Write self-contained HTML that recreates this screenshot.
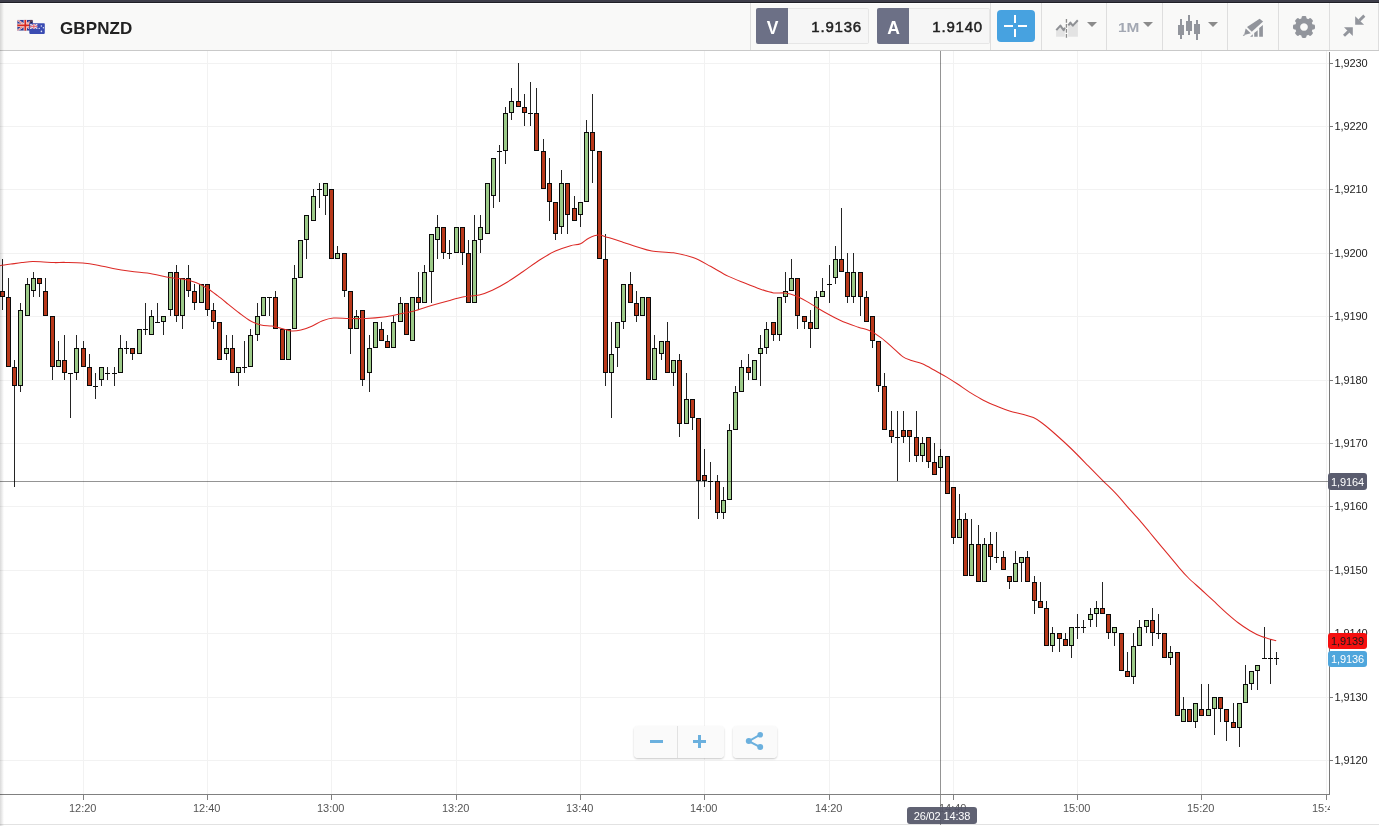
<!DOCTYPE html>
<html lang="en"><head><meta charset="utf-8"><title>GBPNZD</title>
<style>
html,body{margin:0;padding:0;}
body{width:1379px;height:826px;overflow:hidden;background:#fff;position:relative;font-family:"Liberation Sans",Arial,sans-serif;}
#topbar{position:absolute;left:0;top:0;width:1379px;height:3px;background:linear-gradient(to bottom,#3e3e4a 0,#3e3e4a 2px,#202027 2px,#202027 3px);}
#hdr{position:absolute;left:0;top:3px;width:1379px;height:47px;background:#f9f9f8;box-shadow:inset 0 1px 0 #fff;border-bottom:1px solid #c9c9c9;}
#lshadow{position:absolute;left:0;top:3px;width:4px;height:823px;background:linear-gradient(to right,rgba(0,0,0,.15),rgba(0,0,0,0));}
.sym{position:absolute;left:60px;top:16.5px;font-size:17px;font-weight:bold;color:#222;line-height:24px;letter-spacing:0.1px;}
.dv{position:absolute;top:3px;width:1px;height:47px;background:#dedede;}
.pb{position:absolute;top:8px;height:36px;box-sizing:border-box;}
.pb .k{position:absolute;left:0;top:0;width:32px;height:36px;background:#6c7086;border-radius:2px 0 0 2px;color:#fff;font-weight:bold;font-size:17.5px;line-height:40px;text-align:center;text-indent:1px;}
.pb .v{position:absolute;left:32px;top:0;right:0;height:34px;border:1px solid #e6e6e6;border-left:none;background:#f6f6f6;border-radius:0 2px 2px 0;color:#222;font-size:15px;letter-spacing:0.8px;line-height:35px;text-align:right;padding-right:6px;-webkit-text-stroke:0.5px #222;}
#cross{position:absolute;left:997px;top:10px;width:38px;height:32px;border-radius:4px;background:#47a2e0;}
#cross i{position:absolute;background:#fff;display:block;}
.tf{position:absolute;left:1118px;top:17.5px;font-size:13.5px;font-weight:bold;color:#a3a8b3;line-height:20px;transform:scaleX(1.14);transform-origin:0 0;}
.arr{position:absolute;top:22px;width:0;height:0;border-left:5px solid transparent;border-right:5px solid transparent;border-top:5px solid #8b8b8b;}
svg{position:absolute;left:0;top:0;}
.yl{position:absolute;left:1334.6px;letter-spacing:-0.1px;font-size:11px;line-height:14px;height:14px;color:#222;white-space:nowrap;}
.xl{position:absolute;top:801px;width:41px;text-align:center;font-size:11px;line-height:14px;color:#555;white-space:nowrap;}
#xclip{position:absolute;left:0;top:0;width:1330px;height:826px;overflow:hidden;}
.tag{position:absolute;left:1328px;width:39px;height:17px;border-radius:3px;font-size:11px;letter-spacing:-0.1px;line-height:19px;overflow:hidden;text-align:center;white-space:nowrap;}
#ttip{position:absolute;left:907px;top:807px;width:70px;height:17px;border-radius:3px;background:rgba(84,86,104,.93);color:#fff;font-size:11px;letter-spacing:-0.15px;line-height:18px;text-align:center;white-space:nowrap;}
.zb{position:absolute;top:726px;height:32px;background:rgba(250,250,250,.93);border-radius:4px;box-shadow:0 1px 2px rgba(0,0,0,.22);}
#botline{position:absolute;left:0;top:824px;width:1379px;height:1px;background:#e2e2e2;}
</style></head><body>
<div id="botline"></div>
<svg id="chart" width="1379" height="826" viewBox="0 0 1379 826" shape-rendering="crispEdges">
<rect x="0" y="63" width="1329" height="1" fill="#f2f2f2"/>
<rect x="0" y="126" width="1329" height="1" fill="#f2f2f2"/>
<rect x="0" y="189" width="1329" height="1" fill="#f2f2f2"/>
<rect x="0" y="253" width="1329" height="1" fill="#f2f2f2"/>
<rect x="0" y="316" width="1329" height="1" fill="#f2f2f2"/>
<rect x="0" y="380" width="1329" height="1" fill="#f2f2f2"/>
<rect x="0" y="443" width="1329" height="1" fill="#f2f2f2"/>
<rect x="0" y="506" width="1329" height="1" fill="#f2f2f2"/>
<rect x="0" y="570" width="1329" height="1" fill="#f2f2f2"/>
<rect x="0" y="633" width="1329" height="1" fill="#f2f2f2"/>
<rect x="0" y="697" width="1329" height="1" fill="#f2f2f2"/>
<rect x="0" y="760" width="1329" height="1" fill="#f2f2f2"/>
<rect x="83" y="51" width="1" height="743" fill="#f2f2f2"/>
<rect x="207" y="51" width="1" height="743" fill="#f2f2f2"/>
<rect x="331" y="51" width="1" height="743" fill="#f2f2f2"/>
<rect x="456" y="51" width="1" height="743" fill="#f2f2f2"/>
<rect x="580" y="51" width="1" height="743" fill="#f2f2f2"/>
<rect x="704" y="51" width="1" height="743" fill="#f2f2f2"/>
<rect x="829" y="51" width="1" height="743" fill="#f2f2f2"/>
<rect x="953" y="51" width="1" height="743" fill="#f2f2f2"/>
<rect x="1077" y="51" width="1" height="743" fill="#f2f2f2"/>
<rect x="1201" y="51" width="1" height="743" fill="#f2f2f2"/>
<rect x="1326" y="51" width="1" height="743" fill="#f2f2f2"/>
<rect x="2" y="259" width="1" height="51" fill="#242424"/>
<rect x="0" y="291" width="5" height="6" fill="#0a0a0a"/>
<rect x="1" y="292" width="3" height="4" fill="#b8381a"/>
<rect x="8" y="278" width="1" height="89" fill="#242424"/>
<rect x="6" y="297" width="5" height="70" fill="#0a0a0a"/>
<rect x="7" y="298" width="3" height="68" fill="#b8381a"/>
<rect x="14" y="360" width="1" height="127" fill="#242424"/>
<rect x="12" y="367" width="5" height="19" fill="#0a0a0a"/>
<rect x="13" y="368" width="3" height="17" fill="#b8381a"/>
<rect x="20" y="303" width="1" height="89" fill="#242424"/>
<rect x="18" y="310" width="5" height="76" fill="#0a0a0a"/>
<rect x="19" y="311" width="3" height="74" fill="#9cca88"/>
<rect x="27" y="278" width="1" height="38" fill="#242424"/>
<rect x="25" y="284" width="5" height="32" fill="#0a0a0a"/>
<rect x="26" y="285" width="3" height="30" fill="#9cca88"/>
<rect x="33" y="272" width="1" height="25" fill="#242424"/>
<rect x="31" y="278" width="5" height="13" fill="#0a0a0a"/>
<rect x="32" y="279" width="3" height="11" fill="#9cca88"/>
<rect x="39" y="278" width="1" height="19" fill="#242424"/>
<rect x="37" y="278" width="5" height="6" fill="#0a0a0a"/>
<rect x="38" y="279" width="3" height="4" fill="#b8381a"/>
<rect x="45" y="278" width="1" height="38" fill="#242424"/>
<rect x="43" y="291" width="5" height="25" fill="#0a0a0a"/>
<rect x="44" y="292" width="3" height="23" fill="#b8381a"/>
<rect x="52" y="316" width="1" height="64" fill="#242424"/>
<rect x="50" y="316" width="5" height="51" fill="#0a0a0a"/>
<rect x="51" y="317" width="3" height="49" fill="#b8381a"/>
<rect x="58" y="341" width="1" height="26" fill="#242424"/>
<rect x="56" y="360" width="5" height="7" fill="#0a0a0a"/>
<rect x="57" y="361" width="3" height="5" fill="#9cca88"/>
<rect x="64" y="335" width="1" height="45" fill="#242424"/>
<rect x="62" y="360" width="5" height="13" fill="#0a0a0a"/>
<rect x="63" y="361" width="3" height="11" fill="#b8381a"/>
<rect x="70" y="373" width="1" height="45" fill="#242424"/>
<rect x="68" y="373" width="5" height="1" fill="#0a0a0a"/>
<rect x="76" y="335" width="1" height="45" fill="#242424"/>
<rect x="74" y="348" width="5" height="25" fill="#0a0a0a"/>
<rect x="75" y="349" width="3" height="23" fill="#9cca88"/>
<rect x="83" y="341" width="1" height="26" fill="#242424"/>
<rect x="81" y="348" width="5" height="19" fill="#0a0a0a"/>
<rect x="82" y="349" width="3" height="17" fill="#b8381a"/>
<rect x="89" y="354" width="1" height="32" fill="#242424"/>
<rect x="87" y="367" width="5" height="19" fill="#0a0a0a"/>
<rect x="88" y="368" width="3" height="17" fill="#b8381a"/>
<rect x="95" y="373" width="1" height="26" fill="#242424"/>
<rect x="93" y="386" width="5" height="1" fill="#0a0a0a"/>
<rect x="101" y="367" width="1" height="19" fill="#242424"/>
<rect x="99" y="367" width="5" height="13" fill="#0a0a0a"/>
<rect x="100" y="368" width="3" height="11" fill="#9cca88"/>
<rect x="107" y="367" width="1" height="13" fill="#242424"/>
<rect x="105" y="373" width="5" height="1" fill="#0a0a0a"/>
<rect x="114" y="367" width="1" height="19" fill="#242424"/>
<rect x="112" y="373" width="5" height="1" fill="#0a0a0a"/>
<rect x="120" y="335" width="1" height="38" fill="#242424"/>
<rect x="118" y="348" width="5" height="25" fill="#0a0a0a"/>
<rect x="119" y="349" width="3" height="23" fill="#9cca88"/>
<rect x="126" y="341" width="1" height="13" fill="#242424"/>
<rect x="124" y="348" width="5" height="1" fill="#0a0a0a"/>
<rect x="132" y="348" width="1" height="12" fill="#242424"/>
<rect x="130" y="348" width="5" height="6" fill="#0a0a0a"/>
<rect x="131" y="349" width="3" height="4" fill="#b8381a"/>
<rect x="139" y="329" width="1" height="25" fill="#242424"/>
<rect x="137" y="329" width="5" height="25" fill="#0a0a0a"/>
<rect x="138" y="330" width="3" height="23" fill="#9cca88"/>
<rect x="145" y="303" width="1" height="32" fill="#242424"/>
<rect x="143" y="329" width="5" height="1" fill="#0a0a0a"/>
<rect x="151" y="310" width="1" height="25" fill="#242424"/>
<rect x="149" y="316" width="5" height="19" fill="#0a0a0a"/>
<rect x="150" y="317" width="3" height="17" fill="#9cca88"/>
<rect x="157" y="303" width="1" height="19" fill="#242424"/>
<rect x="155" y="322" width="5" height="1" fill="#0a0a0a"/>
<rect x="163" y="316" width="1" height="19" fill="#242424"/>
<rect x="161" y="316" width="5" height="6" fill="#0a0a0a"/>
<rect x="162" y="317" width="3" height="4" fill="#9cca88"/>
<rect x="170" y="272" width="1" height="44" fill="#242424"/>
<rect x="168" y="272" width="5" height="38" fill="#0a0a0a"/>
<rect x="169" y="273" width="3" height="36" fill="#9cca88"/>
<rect x="176" y="265" width="1" height="57" fill="#242424"/>
<rect x="174" y="272" width="5" height="44" fill="#0a0a0a"/>
<rect x="175" y="273" width="3" height="42" fill="#b8381a"/>
<rect x="182" y="278" width="1" height="51" fill="#242424"/>
<rect x="180" y="278" width="5" height="38" fill="#0a0a0a"/>
<rect x="181" y="279" width="3" height="36" fill="#9cca88"/>
<rect x="188" y="265" width="1" height="32" fill="#242424"/>
<rect x="186" y="278" width="5" height="13" fill="#0a0a0a"/>
<rect x="187" y="279" width="3" height="11" fill="#b8381a"/>
<rect x="194" y="284" width="1" height="26" fill="#242424"/>
<rect x="192" y="291" width="5" height="12" fill="#0a0a0a"/>
<rect x="193" y="292" width="3" height="10" fill="#b8381a"/>
<rect x="201" y="284" width="1" height="19" fill="#242424"/>
<rect x="199" y="284" width="5" height="19" fill="#0a0a0a"/>
<rect x="200" y="285" width="3" height="17" fill="#9cca88"/>
<rect x="207" y="284" width="1" height="32" fill="#242424"/>
<rect x="205" y="284" width="5" height="26" fill="#0a0a0a"/>
<rect x="206" y="285" width="3" height="24" fill="#b8381a"/>
<rect x="213" y="303" width="1" height="26" fill="#242424"/>
<rect x="211" y="310" width="5" height="12" fill="#0a0a0a"/>
<rect x="212" y="311" width="3" height="10" fill="#b8381a"/>
<rect x="219" y="322" width="1" height="38" fill="#242424"/>
<rect x="217" y="322" width="5" height="38" fill="#0a0a0a"/>
<rect x="218" y="323" width="3" height="36" fill="#b8381a"/>
<rect x="226" y="335" width="1" height="25" fill="#242424"/>
<rect x="224" y="348" width="5" height="6" fill="#0a0a0a"/>
<rect x="225" y="349" width="3" height="4" fill="#9cca88"/>
<rect x="232" y="335" width="1" height="38" fill="#242424"/>
<rect x="230" y="348" width="5" height="25" fill="#0a0a0a"/>
<rect x="231" y="349" width="3" height="23" fill="#b8381a"/>
<rect x="238" y="367" width="1" height="19" fill="#242424"/>
<rect x="236" y="367" width="5" height="6" fill="#0a0a0a"/>
<rect x="237" y="368" width="3" height="4" fill="#9cca88"/>
<rect x="244" y="341" width="1" height="32" fill="#242424"/>
<rect x="242" y="367" width="5" height="1" fill="#0a0a0a"/>
<rect x="250" y="329" width="1" height="38" fill="#242424"/>
<rect x="248" y="335" width="5" height="32" fill="#0a0a0a"/>
<rect x="249" y="336" width="3" height="30" fill="#9cca88"/>
<rect x="257" y="303" width="1" height="38" fill="#242424"/>
<rect x="255" y="316" width="5" height="19" fill="#0a0a0a"/>
<rect x="256" y="317" width="3" height="17" fill="#9cca88"/>
<rect x="263" y="297" width="1" height="19" fill="#242424"/>
<rect x="261" y="297" width="5" height="19" fill="#0a0a0a"/>
<rect x="262" y="298" width="3" height="17" fill="#9cca88"/>
<rect x="269" y="297" width="1" height="19" fill="#242424"/>
<rect x="267" y="297" width="5" height="1" fill="#0a0a0a"/>
<rect x="275" y="291" width="1" height="38" fill="#242424"/>
<rect x="273" y="297" width="5" height="32" fill="#0a0a0a"/>
<rect x="274" y="298" width="3" height="30" fill="#b8381a"/>
<rect x="282" y="329" width="1" height="31" fill="#242424"/>
<rect x="280" y="329" width="5" height="31" fill="#0a0a0a"/>
<rect x="281" y="330" width="3" height="29" fill="#b8381a"/>
<rect x="288" y="329" width="1" height="31" fill="#242424"/>
<rect x="286" y="329" width="5" height="31" fill="#0a0a0a"/>
<rect x="287" y="330" width="3" height="29" fill="#9cca88"/>
<rect x="294" y="265" width="1" height="64" fill="#242424"/>
<rect x="292" y="278" width="5" height="51" fill="#0a0a0a"/>
<rect x="293" y="279" width="3" height="49" fill="#9cca88"/>
<rect x="300" y="240" width="1" height="38" fill="#242424"/>
<rect x="298" y="240" width="5" height="38" fill="#0a0a0a"/>
<rect x="299" y="241" width="3" height="36" fill="#9cca88"/>
<rect x="306" y="215" width="1" height="44" fill="#242424"/>
<rect x="304" y="215" width="5" height="25" fill="#0a0a0a"/>
<rect x="305" y="216" width="3" height="23" fill="#9cca88"/>
<rect x="313" y="189" width="1" height="32" fill="#242424"/>
<rect x="311" y="196" width="5" height="25" fill="#0a0a0a"/>
<rect x="312" y="197" width="3" height="23" fill="#9cca88"/>
<rect x="319" y="183" width="1" height="25" fill="#242424"/>
<rect x="317" y="189" width="5" height="1" fill="#0a0a0a"/>
<rect x="325" y="183" width="1" height="32" fill="#242424"/>
<rect x="323" y="183" width="5" height="13" fill="#0a0a0a"/>
<rect x="324" y="184" width="3" height="11" fill="#9cca88"/>
<rect x="331" y="189" width="1" height="70" fill="#242424"/>
<rect x="329" y="189" width="5" height="70" fill="#0a0a0a"/>
<rect x="330" y="190" width="3" height="68" fill="#b8381a"/>
<rect x="337" y="246" width="1" height="13" fill="#242424"/>
<rect x="335" y="253" width="5" height="6" fill="#0a0a0a"/>
<rect x="336" y="254" width="3" height="4" fill="#9cca88"/>
<rect x="344" y="253" width="1" height="44" fill="#242424"/>
<rect x="342" y="253" width="5" height="38" fill="#0a0a0a"/>
<rect x="343" y="254" width="3" height="36" fill="#b8381a"/>
<rect x="350" y="291" width="1" height="63" fill="#242424"/>
<rect x="348" y="291" width="5" height="38" fill="#0a0a0a"/>
<rect x="349" y="292" width="3" height="36" fill="#b8381a"/>
<rect x="356" y="310" width="1" height="19" fill="#242424"/>
<rect x="354" y="316" width="5" height="13" fill="#0a0a0a"/>
<rect x="355" y="317" width="3" height="11" fill="#9cca88"/>
<rect x="362" y="310" width="1" height="76" fill="#242424"/>
<rect x="360" y="310" width="5" height="70" fill="#0a0a0a"/>
<rect x="361" y="311" width="3" height="68" fill="#b8381a"/>
<rect x="369" y="335" width="1" height="57" fill="#242424"/>
<rect x="367" y="348" width="5" height="25" fill="#0a0a0a"/>
<rect x="368" y="349" width="3" height="23" fill="#9cca88"/>
<rect x="375" y="322" width="1" height="26" fill="#242424"/>
<rect x="373" y="322" width="5" height="26" fill="#0a0a0a"/>
<rect x="374" y="323" width="3" height="24" fill="#9cca88"/>
<rect x="381" y="322" width="1" height="19" fill="#242424"/>
<rect x="379" y="329" width="5" height="12" fill="#0a0a0a"/>
<rect x="380" y="330" width="3" height="10" fill="#b8381a"/>
<rect x="387" y="335" width="1" height="13" fill="#242424"/>
<rect x="385" y="341" width="5" height="7" fill="#0a0a0a"/>
<rect x="386" y="342" width="3" height="5" fill="#b8381a"/>
<rect x="393" y="316" width="1" height="32" fill="#242424"/>
<rect x="391" y="322" width="5" height="26" fill="#0a0a0a"/>
<rect x="392" y="323" width="3" height="24" fill="#9cca88"/>
<rect x="400" y="297" width="1" height="25" fill="#242424"/>
<rect x="398" y="303" width="5" height="19" fill="#0a0a0a"/>
<rect x="399" y="304" width="3" height="17" fill="#9cca88"/>
<rect x="406" y="303" width="1" height="32" fill="#242424"/>
<rect x="404" y="303" width="5" height="32" fill="#0a0a0a"/>
<rect x="405" y="304" width="3" height="30" fill="#b8381a"/>
<rect x="412" y="297" width="1" height="44" fill="#242424"/>
<rect x="410" y="297" width="5" height="44" fill="#0a0a0a"/>
<rect x="411" y="298" width="3" height="42" fill="#9cca88"/>
<rect x="418" y="272" width="1" height="38" fill="#242424"/>
<rect x="416" y="297" width="5" height="6" fill="#0a0a0a"/>
<rect x="417" y="298" width="3" height="4" fill="#b8381a"/>
<rect x="424" y="265" width="1" height="38" fill="#242424"/>
<rect x="422" y="272" width="5" height="31" fill="#0a0a0a"/>
<rect x="423" y="273" width="3" height="29" fill="#9cca88"/>
<rect x="431" y="234" width="1" height="69" fill="#242424"/>
<rect x="429" y="234" width="5" height="38" fill="#0a0a0a"/>
<rect x="430" y="235" width="3" height="36" fill="#9cca88"/>
<rect x="437" y="215" width="1" height="44" fill="#242424"/>
<rect x="435" y="227" width="5" height="13" fill="#0a0a0a"/>
<rect x="436" y="228" width="3" height="11" fill="#9cca88"/>
<rect x="443" y="227" width="1" height="32" fill="#242424"/>
<rect x="441" y="227" width="5" height="26" fill="#0a0a0a"/>
<rect x="442" y="228" width="3" height="24" fill="#b8381a"/>
<rect x="449" y="240" width="1" height="19" fill="#242424"/>
<rect x="447" y="253" width="5" height="1" fill="#0a0a0a"/>
<rect x="456" y="227" width="1" height="26" fill="#242424"/>
<rect x="454" y="227" width="5" height="26" fill="#0a0a0a"/>
<rect x="455" y="228" width="3" height="24" fill="#9cca88"/>
<rect x="462" y="227" width="1" height="38" fill="#242424"/>
<rect x="460" y="227" width="5" height="26" fill="#0a0a0a"/>
<rect x="461" y="228" width="3" height="24" fill="#b8381a"/>
<rect x="468" y="240" width="1" height="63" fill="#242424"/>
<rect x="466" y="253" width="5" height="50" fill="#0a0a0a"/>
<rect x="467" y="254" width="3" height="48" fill="#b8381a"/>
<rect x="474" y="215" width="1" height="88" fill="#242424"/>
<rect x="472" y="240" width="5" height="63" fill="#0a0a0a"/>
<rect x="473" y="241" width="3" height="61" fill="#9cca88"/>
<rect x="480" y="215" width="1" height="38" fill="#242424"/>
<rect x="478" y="227" width="5" height="13" fill="#0a0a0a"/>
<rect x="479" y="228" width="3" height="11" fill="#9cca88"/>
<rect x="487" y="183" width="1" height="51" fill="#242424"/>
<rect x="485" y="183" width="5" height="51" fill="#0a0a0a"/>
<rect x="486" y="184" width="3" height="49" fill="#9cca88"/>
<rect x="493" y="158" width="1" height="50" fill="#242424"/>
<rect x="491" y="158" width="5" height="38" fill="#0a0a0a"/>
<rect x="492" y="159" width="3" height="36" fill="#9cca88"/>
<rect x="499" y="145" width="1" height="57" fill="#242424"/>
<rect x="497" y="151" width="5" height="1" fill="#0a0a0a"/>
<rect x="505" y="107" width="1" height="57" fill="#242424"/>
<rect x="503" y="113" width="5" height="38" fill="#0a0a0a"/>
<rect x="504" y="114" width="3" height="36" fill="#9cca88"/>
<rect x="511" y="88" width="1" height="32" fill="#242424"/>
<rect x="509" y="101" width="5" height="12" fill="#0a0a0a"/>
<rect x="510" y="102" width="3" height="10" fill="#9cca88"/>
<rect x="518" y="63" width="1" height="44" fill="#242424"/>
<rect x="516" y="101" width="5" height="6" fill="#0a0a0a"/>
<rect x="517" y="102" width="3" height="4" fill="#b8381a"/>
<rect x="524" y="94" width="1" height="32" fill="#242424"/>
<rect x="522" y="107" width="5" height="6" fill="#0a0a0a"/>
<rect x="523" y="108" width="3" height="4" fill="#b8381a"/>
<rect x="530" y="82" width="1" height="44" fill="#242424"/>
<rect x="528" y="113" width="5" height="1" fill="#0a0a0a"/>
<rect x="536" y="88" width="1" height="63" fill="#242424"/>
<rect x="534" y="113" width="5" height="38" fill="#0a0a0a"/>
<rect x="535" y="114" width="3" height="36" fill="#b8381a"/>
<rect x="543" y="139" width="1" height="50" fill="#242424"/>
<rect x="541" y="151" width="5" height="38" fill="#0a0a0a"/>
<rect x="542" y="152" width="3" height="36" fill="#b8381a"/>
<rect x="549" y="158" width="1" height="63" fill="#242424"/>
<rect x="547" y="183" width="5" height="19" fill="#0a0a0a"/>
<rect x="548" y="184" width="3" height="17" fill="#b8381a"/>
<rect x="555" y="202" width="1" height="38" fill="#242424"/>
<rect x="553" y="202" width="5" height="32" fill="#0a0a0a"/>
<rect x="554" y="203" width="3" height="30" fill="#b8381a"/>
<rect x="561" y="170" width="1" height="64" fill="#242424"/>
<rect x="559" y="183" width="5" height="44" fill="#0a0a0a"/>
<rect x="560" y="184" width="3" height="42" fill="#9cca88"/>
<rect x="567" y="183" width="1" height="51" fill="#242424"/>
<rect x="565" y="183" width="5" height="32" fill="#0a0a0a"/>
<rect x="566" y="184" width="3" height="30" fill="#b8381a"/>
<rect x="574" y="196" width="1" height="25" fill="#242424"/>
<rect x="572" y="208" width="5" height="13" fill="#0a0a0a"/>
<rect x="573" y="209" width="3" height="11" fill="#b8381a"/>
<rect x="580" y="202" width="1" height="25" fill="#242424"/>
<rect x="578" y="202" width="5" height="13" fill="#0a0a0a"/>
<rect x="579" y="203" width="3" height="11" fill="#9cca88"/>
<rect x="586" y="120" width="1" height="82" fill="#242424"/>
<rect x="584" y="132" width="5" height="70" fill="#0a0a0a"/>
<rect x="585" y="133" width="3" height="68" fill="#9cca88"/>
<rect x="592" y="94" width="1" height="89" fill="#242424"/>
<rect x="590" y="132" width="5" height="19" fill="#0a0a0a"/>
<rect x="591" y="133" width="3" height="17" fill="#b8381a"/>
<rect x="599" y="151" width="1" height="108" fill="#242424"/>
<rect x="597" y="151" width="5" height="108" fill="#0a0a0a"/>
<rect x="598" y="152" width="3" height="106" fill="#b8381a"/>
<rect x="605" y="234" width="1" height="152" fill="#242424"/>
<rect x="603" y="259" width="5" height="114" fill="#0a0a0a"/>
<rect x="604" y="260" width="3" height="112" fill="#b8381a"/>
<rect x="611" y="322" width="1" height="96" fill="#242424"/>
<rect x="609" y="354" width="5" height="19" fill="#0a0a0a"/>
<rect x="610" y="355" width="3" height="17" fill="#9cca88"/>
<rect x="617" y="322" width="1" height="45" fill="#242424"/>
<rect x="615" y="322" width="5" height="26" fill="#0a0a0a"/>
<rect x="616" y="323" width="3" height="24" fill="#9cca88"/>
<rect x="623" y="284" width="1" height="45" fill="#242424"/>
<rect x="621" y="284" width="5" height="38" fill="#0a0a0a"/>
<rect x="622" y="285" width="3" height="36" fill="#9cca88"/>
<rect x="630" y="272" width="1" height="31" fill="#242424"/>
<rect x="628" y="284" width="5" height="19" fill="#0a0a0a"/>
<rect x="629" y="285" width="3" height="17" fill="#b8381a"/>
<rect x="636" y="291" width="1" height="31" fill="#242424"/>
<rect x="634" y="303" width="5" height="13" fill="#0a0a0a"/>
<rect x="635" y="304" width="3" height="11" fill="#b8381a"/>
<rect x="642" y="297" width="1" height="19" fill="#242424"/>
<rect x="640" y="297" width="5" height="19" fill="#0a0a0a"/>
<rect x="641" y="298" width="3" height="17" fill="#9cca88"/>
<rect x="648" y="297" width="1" height="83" fill="#242424"/>
<rect x="646" y="297" width="5" height="83" fill="#0a0a0a"/>
<rect x="647" y="298" width="3" height="81" fill="#b8381a"/>
<rect x="654" y="335" width="1" height="45" fill="#242424"/>
<rect x="652" y="348" width="5" height="32" fill="#0a0a0a"/>
<rect x="653" y="349" width="3" height="30" fill="#9cca88"/>
<rect x="661" y="341" width="1" height="19" fill="#242424"/>
<rect x="659" y="341" width="5" height="13" fill="#0a0a0a"/>
<rect x="660" y="342" width="3" height="11" fill="#9cca88"/>
<rect x="667" y="322" width="1" height="51" fill="#242424"/>
<rect x="665" y="341" width="5" height="32" fill="#0a0a0a"/>
<rect x="666" y="342" width="3" height="30" fill="#b8381a"/>
<rect x="673" y="360" width="1" height="26" fill="#242424"/>
<rect x="671" y="360" width="5" height="13" fill="#0a0a0a"/>
<rect x="672" y="361" width="3" height="11" fill="#9cca88"/>
<rect x="679" y="354" width="1" height="83" fill="#242424"/>
<rect x="677" y="360" width="5" height="64" fill="#0a0a0a"/>
<rect x="678" y="361" width="3" height="62" fill="#b8381a"/>
<rect x="686" y="373" width="1" height="51" fill="#242424"/>
<rect x="684" y="399" width="5" height="25" fill="#0a0a0a"/>
<rect x="685" y="400" width="3" height="23" fill="#9cca88"/>
<rect x="692" y="399" width="1" height="31" fill="#242424"/>
<rect x="690" y="399" width="5" height="19" fill="#0a0a0a"/>
<rect x="691" y="400" width="3" height="17" fill="#b8381a"/>
<rect x="698" y="418" width="1" height="101" fill="#242424"/>
<rect x="696" y="418" width="5" height="63" fill="#0a0a0a"/>
<rect x="697" y="419" width="3" height="61" fill="#b8381a"/>
<rect x="704" y="449" width="1" height="38" fill="#242424"/>
<rect x="702" y="475" width="5" height="6" fill="#0a0a0a"/>
<rect x="703" y="476" width="3" height="4" fill="#b8381a"/>
<rect x="710" y="462" width="1" height="38" fill="#242424"/>
<rect x="708" y="481" width="5" height="1" fill="#0a0a0a"/>
<rect x="717" y="475" width="1" height="44" fill="#242424"/>
<rect x="715" y="481" width="5" height="32" fill="#0a0a0a"/>
<rect x="716" y="482" width="3" height="30" fill="#b8381a"/>
<rect x="723" y="487" width="1" height="32" fill="#242424"/>
<rect x="721" y="500" width="5" height="13" fill="#0a0a0a"/>
<rect x="722" y="501" width="3" height="11" fill="#9cca88"/>
<rect x="729" y="424" width="1" height="76" fill="#242424"/>
<rect x="727" y="430" width="5" height="70" fill="#0a0a0a"/>
<rect x="728" y="431" width="3" height="68" fill="#9cca88"/>
<rect x="735" y="386" width="1" height="44" fill="#242424"/>
<rect x="733" y="392" width="5" height="38" fill="#0a0a0a"/>
<rect x="734" y="393" width="3" height="36" fill="#9cca88"/>
<rect x="741" y="360" width="1" height="32" fill="#242424"/>
<rect x="739" y="367" width="5" height="25" fill="#0a0a0a"/>
<rect x="740" y="368" width="3" height="23" fill="#9cca88"/>
<rect x="748" y="354" width="1" height="26" fill="#242424"/>
<rect x="746" y="367" width="5" height="6" fill="#0a0a0a"/>
<rect x="747" y="368" width="3" height="4" fill="#b8381a"/>
<rect x="754" y="360" width="1" height="20" fill="#242424"/>
<rect x="752" y="360" width="5" height="20" fill="#0a0a0a"/>
<rect x="753" y="361" width="3" height="18" fill="#9cca88"/>
<rect x="760" y="335" width="1" height="51" fill="#242424"/>
<rect x="758" y="348" width="5" height="6" fill="#0a0a0a"/>
<rect x="759" y="349" width="3" height="4" fill="#9cca88"/>
<rect x="766" y="322" width="1" height="32" fill="#242424"/>
<rect x="764" y="329" width="5" height="19" fill="#0a0a0a"/>
<rect x="765" y="330" width="3" height="17" fill="#9cca88"/>
<rect x="773" y="322" width="1" height="19" fill="#242424"/>
<rect x="771" y="322" width="5" height="13" fill="#0a0a0a"/>
<rect x="772" y="323" width="3" height="11" fill="#b8381a"/>
<rect x="779" y="297" width="1" height="44" fill="#242424"/>
<rect x="777" y="297" width="5" height="38" fill="#0a0a0a"/>
<rect x="778" y="298" width="3" height="36" fill="#9cca88"/>
<rect x="785" y="272" width="1" height="31" fill="#242424"/>
<rect x="783" y="291" width="5" height="6" fill="#0a0a0a"/>
<rect x="784" y="292" width="3" height="4" fill="#9cca88"/>
<rect x="791" y="259" width="1" height="32" fill="#242424"/>
<rect x="789" y="278" width="5" height="13" fill="#0a0a0a"/>
<rect x="790" y="279" width="3" height="11" fill="#9cca88"/>
<rect x="797" y="278" width="1" height="51" fill="#242424"/>
<rect x="795" y="278" width="5" height="38" fill="#0a0a0a"/>
<rect x="796" y="279" width="3" height="36" fill="#b8381a"/>
<rect x="804" y="316" width="1" height="13" fill="#242424"/>
<rect x="802" y="316" width="5" height="6" fill="#0a0a0a"/>
<rect x="803" y="317" width="3" height="4" fill="#b8381a"/>
<rect x="810" y="310" width="1" height="38" fill="#242424"/>
<rect x="808" y="322" width="5" height="7" fill="#0a0a0a"/>
<rect x="809" y="323" width="3" height="5" fill="#b8381a"/>
<rect x="816" y="291" width="1" height="38" fill="#242424"/>
<rect x="814" y="297" width="5" height="32" fill="#0a0a0a"/>
<rect x="815" y="298" width="3" height="30" fill="#9cca88"/>
<rect x="822" y="278" width="1" height="19" fill="#242424"/>
<rect x="820" y="291" width="5" height="6" fill="#0a0a0a"/>
<rect x="821" y="292" width="3" height="4" fill="#9cca88"/>
<rect x="829" y="265" width="1" height="38" fill="#242424"/>
<rect x="827" y="284" width="5" height="1" fill="#0a0a0a"/>
<rect x="835" y="246" width="1" height="38" fill="#242424"/>
<rect x="833" y="259" width="5" height="19" fill="#0a0a0a"/>
<rect x="834" y="260" width="3" height="17" fill="#9cca88"/>
<rect x="841" y="208" width="1" height="64" fill="#242424"/>
<rect x="839" y="259" width="5" height="13" fill="#0a0a0a"/>
<rect x="840" y="260" width="3" height="11" fill="#b8381a"/>
<rect x="847" y="253" width="1" height="50" fill="#242424"/>
<rect x="845" y="272" width="5" height="25" fill="#0a0a0a"/>
<rect x="846" y="273" width="3" height="23" fill="#b8381a"/>
<rect x="853" y="253" width="1" height="50" fill="#242424"/>
<rect x="851" y="272" width="5" height="25" fill="#0a0a0a"/>
<rect x="852" y="273" width="3" height="23" fill="#9cca88"/>
<rect x="860" y="272" width="1" height="44" fill="#242424"/>
<rect x="858" y="272" width="5" height="25" fill="#0a0a0a"/>
<rect x="859" y="273" width="3" height="23" fill="#b8381a"/>
<rect x="866" y="291" width="1" height="31" fill="#242424"/>
<rect x="864" y="297" width="5" height="25" fill="#0a0a0a"/>
<rect x="865" y="298" width="3" height="23" fill="#b8381a"/>
<rect x="872" y="316" width="1" height="32" fill="#242424"/>
<rect x="870" y="316" width="5" height="25" fill="#0a0a0a"/>
<rect x="871" y="317" width="3" height="23" fill="#b8381a"/>
<rect x="878" y="341" width="1" height="51" fill="#242424"/>
<rect x="876" y="341" width="5" height="45" fill="#0a0a0a"/>
<rect x="877" y="342" width="3" height="43" fill="#b8381a"/>
<rect x="884" y="373" width="1" height="57" fill="#242424"/>
<rect x="882" y="386" width="5" height="44" fill="#0a0a0a"/>
<rect x="883" y="387" width="3" height="42" fill="#b8381a"/>
<rect x="891" y="411" width="1" height="32" fill="#242424"/>
<rect x="889" y="430" width="5" height="7" fill="#0a0a0a"/>
<rect x="890" y="431" width="3" height="5" fill="#b8381a"/>
<rect x="897" y="411" width="1" height="70" fill="#242424"/>
<rect x="895" y="437" width="5" height="1" fill="#0a0a0a"/>
<rect x="903" y="411" width="1" height="32" fill="#242424"/>
<rect x="901" y="430" width="5" height="7" fill="#0a0a0a"/>
<rect x="902" y="431" width="3" height="5" fill="#b8381a"/>
<rect x="909" y="430" width="1" height="32" fill="#242424"/>
<rect x="907" y="430" width="5" height="7" fill="#0a0a0a"/>
<rect x="908" y="431" width="3" height="5" fill="#b8381a"/>
<rect x="916" y="411" width="1" height="51" fill="#242424"/>
<rect x="914" y="437" width="5" height="19" fill="#0a0a0a"/>
<rect x="915" y="438" width="3" height="17" fill="#b8381a"/>
<rect x="922" y="437" width="1" height="25" fill="#242424"/>
<rect x="920" y="443" width="5" height="13" fill="#0a0a0a"/>
<rect x="921" y="444" width="3" height="11" fill="#9cca88"/>
<rect x="928" y="437" width="1" height="31" fill="#242424"/>
<rect x="926" y="437" width="5" height="25" fill="#0a0a0a"/>
<rect x="927" y="438" width="3" height="23" fill="#b8381a"/>
<rect x="934" y="443" width="1" height="32" fill="#242424"/>
<rect x="932" y="462" width="5" height="13" fill="#0a0a0a"/>
<rect x="933" y="463" width="3" height="11" fill="#b8381a"/>
<rect x="940" y="449" width="1" height="32" fill="#242424"/>
<rect x="938" y="456" width="5" height="12" fill="#0a0a0a"/>
<rect x="939" y="457" width="3" height="10" fill="#9cca88"/>
<rect x="947" y="456" width="1" height="38" fill="#242424"/>
<rect x="945" y="456" width="5" height="38" fill="#0a0a0a"/>
<rect x="946" y="457" width="3" height="36" fill="#b8381a"/>
<rect x="953" y="487" width="1" height="57" fill="#242424"/>
<rect x="951" y="487" width="5" height="51" fill="#0a0a0a"/>
<rect x="952" y="488" width="3" height="49" fill="#b8381a"/>
<rect x="959" y="494" width="1" height="44" fill="#242424"/>
<rect x="957" y="519" width="5" height="19" fill="#0a0a0a"/>
<rect x="958" y="520" width="3" height="17" fill="#9cca88"/>
<rect x="965" y="513" width="1" height="63" fill="#242424"/>
<rect x="963" y="519" width="5" height="57" fill="#0a0a0a"/>
<rect x="964" y="520" width="3" height="55" fill="#b8381a"/>
<rect x="971" y="519" width="1" height="57" fill="#242424"/>
<rect x="969" y="544" width="5" height="32" fill="#0a0a0a"/>
<rect x="970" y="545" width="3" height="30" fill="#9cca88"/>
<rect x="978" y="525" width="1" height="57" fill="#242424"/>
<rect x="976" y="544" width="5" height="38" fill="#0a0a0a"/>
<rect x="977" y="545" width="3" height="36" fill="#b8381a"/>
<rect x="984" y="538" width="1" height="44" fill="#242424"/>
<rect x="982" y="544" width="5" height="38" fill="#0a0a0a"/>
<rect x="983" y="545" width="3" height="36" fill="#9cca88"/>
<rect x="990" y="532" width="1" height="38" fill="#242424"/>
<rect x="988" y="544" width="5" height="13" fill="#0a0a0a"/>
<rect x="989" y="545" width="3" height="11" fill="#b8381a"/>
<rect x="996" y="532" width="1" height="31" fill="#242424"/>
<rect x="994" y="557" width="5" height="1" fill="#0a0a0a"/>
<rect x="1003" y="551" width="1" height="19" fill="#242424"/>
<rect x="1001" y="557" width="5" height="13" fill="#0a0a0a"/>
<rect x="1002" y="558" width="3" height="11" fill="#b8381a"/>
<rect x="1009" y="576" width="1" height="13" fill="#242424"/>
<rect x="1007" y="576" width="5" height="6" fill="#0a0a0a"/>
<rect x="1008" y="577" width="3" height="4" fill="#b8381a"/>
<rect x="1015" y="551" width="1" height="31" fill="#242424"/>
<rect x="1013" y="563" width="5" height="19" fill="#0a0a0a"/>
<rect x="1014" y="564" width="3" height="17" fill="#9cca88"/>
<rect x="1021" y="557" width="1" height="25" fill="#242424"/>
<rect x="1019" y="557" width="5" height="6" fill="#0a0a0a"/>
<rect x="1020" y="558" width="3" height="4" fill="#9cca88"/>
<rect x="1027" y="551" width="1" height="31" fill="#242424"/>
<rect x="1025" y="557" width="5" height="25" fill="#0a0a0a"/>
<rect x="1026" y="558" width="3" height="23" fill="#b8381a"/>
<rect x="1034" y="576" width="1" height="38" fill="#242424"/>
<rect x="1032" y="582" width="5" height="19" fill="#0a0a0a"/>
<rect x="1033" y="583" width="3" height="17" fill="#b8381a"/>
<rect x="1040" y="582" width="1" height="26" fill="#242424"/>
<rect x="1038" y="601" width="5" height="7" fill="#0a0a0a"/>
<rect x="1039" y="602" width="3" height="5" fill="#b8381a"/>
<rect x="1046" y="601" width="1" height="45" fill="#242424"/>
<rect x="1044" y="608" width="5" height="38" fill="#0a0a0a"/>
<rect x="1045" y="609" width="3" height="36" fill="#b8381a"/>
<rect x="1052" y="627" width="1" height="25" fill="#242424"/>
<rect x="1050" y="633" width="5" height="13" fill="#0a0a0a"/>
<rect x="1051" y="634" width="3" height="11" fill="#9cca88"/>
<rect x="1059" y="633" width="1" height="19" fill="#242424"/>
<rect x="1057" y="633" width="5" height="6" fill="#0a0a0a"/>
<rect x="1058" y="634" width="3" height="4" fill="#b8381a"/>
<rect x="1065" y="633" width="1" height="13" fill="#242424"/>
<rect x="1063" y="639" width="5" height="7" fill="#0a0a0a"/>
<rect x="1064" y="640" width="3" height="5" fill="#b8381a"/>
<rect x="1071" y="627" width="1" height="31" fill="#242424"/>
<rect x="1069" y="627" width="5" height="19" fill="#0a0a0a"/>
<rect x="1070" y="628" width="3" height="17" fill="#9cca88"/>
<rect x="1077" y="614" width="1" height="25" fill="#242424"/>
<rect x="1075" y="627" width="5" height="1" fill="#0a0a0a"/>
<rect x="1083" y="620" width="1" height="13" fill="#242424"/>
<rect x="1081" y="627" width="5" height="1" fill="#0a0a0a"/>
<rect x="1090" y="608" width="1" height="19" fill="#242424"/>
<rect x="1088" y="614" width="5" height="6" fill="#0a0a0a"/>
<rect x="1089" y="615" width="3" height="4" fill="#9cca88"/>
<rect x="1096" y="601" width="1" height="26" fill="#242424"/>
<rect x="1094" y="608" width="5" height="6" fill="#0a0a0a"/>
<rect x="1095" y="609" width="3" height="4" fill="#9cca88"/>
<rect x="1102" y="582" width="1" height="32" fill="#242424"/>
<rect x="1100" y="608" width="5" height="6" fill="#0a0a0a"/>
<rect x="1101" y="609" width="3" height="4" fill="#b8381a"/>
<rect x="1108" y="614" width="1" height="25" fill="#242424"/>
<rect x="1106" y="614" width="5" height="19" fill="#0a0a0a"/>
<rect x="1107" y="615" width="3" height="17" fill="#b8381a"/>
<rect x="1114" y="627" width="1" height="19" fill="#242424"/>
<rect x="1112" y="627" width="5" height="6" fill="#0a0a0a"/>
<rect x="1113" y="628" width="3" height="4" fill="#9cca88"/>
<rect x="1121" y="633" width="1" height="38" fill="#242424"/>
<rect x="1119" y="633" width="5" height="38" fill="#0a0a0a"/>
<rect x="1120" y="634" width="3" height="36" fill="#b8381a"/>
<rect x="1127" y="652" width="1" height="25" fill="#242424"/>
<rect x="1125" y="671" width="5" height="6" fill="#0a0a0a"/>
<rect x="1126" y="672" width="3" height="4" fill="#b8381a"/>
<rect x="1133" y="633" width="1" height="51" fill="#242424"/>
<rect x="1131" y="646" width="5" height="31" fill="#0a0a0a"/>
<rect x="1132" y="647" width="3" height="29" fill="#9cca88"/>
<rect x="1139" y="620" width="1" height="26" fill="#242424"/>
<rect x="1137" y="627" width="5" height="19" fill="#0a0a0a"/>
<rect x="1138" y="628" width="3" height="17" fill="#9cca88"/>
<rect x="1146" y="620" width="1" height="13" fill="#242424"/>
<rect x="1144" y="620" width="5" height="7" fill="#0a0a0a"/>
<rect x="1145" y="621" width="3" height="5" fill="#9cca88"/>
<rect x="1152" y="608" width="1" height="38" fill="#242424"/>
<rect x="1150" y="620" width="5" height="13" fill="#0a0a0a"/>
<rect x="1151" y="621" width="3" height="11" fill="#b8381a"/>
<rect x="1158" y="614" width="1" height="25" fill="#242424"/>
<rect x="1156" y="633" width="5" height="1" fill="#0a0a0a"/>
<rect x="1164" y="633" width="1" height="25" fill="#242424"/>
<rect x="1162" y="633" width="5" height="25" fill="#0a0a0a"/>
<rect x="1163" y="634" width="3" height="23" fill="#b8381a"/>
<rect x="1170" y="646" width="1" height="19" fill="#242424"/>
<rect x="1168" y="652" width="5" height="6" fill="#0a0a0a"/>
<rect x="1169" y="653" width="3" height="4" fill="#9cca88"/>
<rect x="1177" y="652" width="1" height="64" fill="#242424"/>
<rect x="1175" y="652" width="5" height="64" fill="#0a0a0a"/>
<rect x="1176" y="653" width="3" height="62" fill="#b8381a"/>
<rect x="1183" y="697" width="1" height="25" fill="#242424"/>
<rect x="1181" y="709" width="5" height="13" fill="#0a0a0a"/>
<rect x="1182" y="710" width="3" height="11" fill="#9cca88"/>
<rect x="1189" y="709" width="1" height="13" fill="#242424"/>
<rect x="1187" y="709" width="5" height="13" fill="#0a0a0a"/>
<rect x="1188" y="710" width="3" height="11" fill="#b8381a"/>
<rect x="1195" y="703" width="1" height="25" fill="#242424"/>
<rect x="1193" y="703" width="5" height="19" fill="#0a0a0a"/>
<rect x="1194" y="704" width="3" height="17" fill="#9cca88"/>
<rect x="1201" y="684" width="1" height="32" fill="#242424"/>
<rect x="1199" y="709" width="5" height="7" fill="#0a0a0a"/>
<rect x="1200" y="710" width="3" height="5" fill="#b8381a"/>
<rect x="1208" y="684" width="1" height="32" fill="#242424"/>
<rect x="1206" y="709" width="5" height="7" fill="#0a0a0a"/>
<rect x="1207" y="710" width="3" height="5" fill="#9cca88"/>
<rect x="1214" y="697" width="1" height="38" fill="#242424"/>
<rect x="1212" y="697" width="5" height="12" fill="#0a0a0a"/>
<rect x="1213" y="698" width="3" height="10" fill="#9cca88"/>
<rect x="1220" y="697" width="1" height="25" fill="#242424"/>
<rect x="1218" y="697" width="5" height="12" fill="#0a0a0a"/>
<rect x="1219" y="698" width="3" height="10" fill="#b8381a"/>
<rect x="1226" y="709" width="1" height="32" fill="#242424"/>
<rect x="1224" y="709" width="5" height="13" fill="#0a0a0a"/>
<rect x="1225" y="710" width="3" height="11" fill="#b8381a"/>
<rect x="1233" y="703" width="1" height="25" fill="#242424"/>
<rect x="1231" y="722" width="5" height="6" fill="#0a0a0a"/>
<rect x="1232" y="723" width="3" height="4" fill="#b8381a"/>
<rect x="1239" y="703" width="1" height="44" fill="#242424"/>
<rect x="1237" y="703" width="5" height="25" fill="#0a0a0a"/>
<rect x="1238" y="704" width="3" height="23" fill="#9cca88"/>
<rect x="1245" y="665" width="1" height="38" fill="#242424"/>
<rect x="1243" y="684" width="5" height="19" fill="#0a0a0a"/>
<rect x="1244" y="685" width="3" height="17" fill="#9cca88"/>
<rect x="1251" y="671" width="1" height="19" fill="#242424"/>
<rect x="1249" y="671" width="5" height="13" fill="#0a0a0a"/>
<rect x="1250" y="672" width="3" height="11" fill="#9cca88"/>
<rect x="1257" y="665" width="1" height="25" fill="#242424"/>
<rect x="1255" y="665" width="5" height="6" fill="#0a0a0a"/>
<rect x="1256" y="666" width="3" height="4" fill="#9cca88"/>
<rect x="1264" y="627" width="1" height="31" fill="#242424"/>
<rect x="1262" y="658" width="5" height="1" fill="#0a0a0a"/>
<rect x="1270" y="639" width="1" height="45" fill="#242424"/>
<rect x="1268" y="658" width="5" height="1" fill="#0a0a0a"/>
<rect x="1276" y="652" width="1" height="13" fill="#242424"/>
<rect x="1274" y="658" width="5" height="1" fill="#0a0a0a"/>
<g shape-rendering="geometricPrecision"><path d="M0.0,265.7 C1.8,265.4 7.3,264.6 10.9,264.1 C14.5,263.6 18.2,263.0 21.8,262.6 C25.4,262.2 29.0,261.6 32.6,261.5 C36.2,261.4 39.9,261.8 43.5,262.0 C47.1,262.2 50.8,262.5 54.4,262.6 C58.0,262.7 60.6,262.3 65.3,262.4 C70.0,262.5 77.3,262.5 82.7,263.0 C88.1,263.5 92.9,264.3 97.9,265.2 C103.0,266.1 107.6,267.5 113.0,268.5 C118.4,269.5 124.0,270.4 130.5,271.3 C137.1,272.2 145.8,272.8 152.3,273.9 C158.8,274.9 164.2,276.7 169.7,277.6 C175.1,278.5 180.7,278.6 185.0,279.4 C189.3,280.2 192.2,281.2 195.8,282.6 C199.4,284.0 203.1,285.8 206.7,288.0 C210.3,290.2 213.9,293.0 217.5,295.7 C221.1,298.4 224.8,301.5 228.4,304.4 C232.0,307.3 235.7,310.3 239.3,313.0 C242.9,315.7 246.6,318.7 250.2,320.7 C253.8,322.7 257.4,324.1 261.0,325.0 C264.6,325.9 268.4,325.5 272.0,326.1 C275.6,326.7 279.6,327.9 282.8,328.7 C286.1,329.5 288.5,330.8 291.5,331.0 C294.5,331.2 297.5,330.8 300.9,330.0 C304.3,329.2 308.2,327.8 311.8,326.2 C315.4,324.6 319.0,322.0 322.6,320.7 C326.2,319.4 329.1,318.5 333.5,318.1 C337.9,317.7 343.3,318.4 348.7,318.5 C354.1,318.6 360.2,318.8 366.0,318.5 C371.8,318.2 378.0,317.7 383.5,317.0 C389.0,316.3 393.7,315.2 398.8,314.2 C403.9,313.2 408.6,312.4 414.0,311.0 C419.4,309.6 425.6,307.2 431.4,305.5 C437.2,303.8 443.4,302.1 448.8,300.7 C454.2,299.2 458.9,297.8 464.0,296.8 C469.1,295.9 474.6,296.1 479.3,295.0 C484.0,293.9 487.6,292.5 492.3,290.3 C497.0,288.1 502.4,285.1 507.5,282.0 C512.6,278.9 517.4,275.5 522.8,271.8 C528.2,268.1 534.6,263.2 540.0,259.8 C545.4,256.4 550.3,253.4 555.4,251.1 C560.5,248.8 566.4,246.9 570.6,245.7 C574.8,244.5 577.5,245.1 580.5,243.8 C583.5,242.6 585.7,239.6 588.7,238.2 C591.7,236.8 595.2,235.2 598.5,235.1 C601.8,235.0 604.1,236.4 608.3,237.6 C612.5,238.8 618.8,240.9 623.5,242.4 C628.2,243.9 631.9,245.4 636.6,246.8 C641.3,248.2 645.6,250.1 651.8,251.1 C657.9,252.1 666.6,251.7 673.5,252.8 C680.4,253.9 686.8,255.4 693.0,257.6 C699.2,259.9 704.7,263.2 710.5,266.3 C716.3,269.4 722.2,273.3 728.0,276.1 C733.8,278.9 739.9,281.1 745.3,283.3 C750.7,285.5 755.9,287.6 760.6,289.2 C765.3,290.8 769.6,292.3 773.6,292.9 C777.6,293.5 780.9,292.5 784.5,293.0 C788.1,293.5 791.8,294.3 795.4,295.7 C799.0,297.1 802.6,299.1 806.2,301.1 C809.8,303.1 813.0,305.3 817.0,307.7 C821.0,310.1 825.8,312.9 830.2,315.3 C834.6,317.7 838.5,319.8 843.2,321.8 C847.9,323.8 854.0,325.7 858.4,327.2 C862.8,328.7 865.5,328.9 869.3,330.6 C873.0,332.3 877.1,334.9 880.9,337.6 C884.6,340.3 888.2,343.6 891.8,346.8 C895.4,350.0 899.4,354.3 902.7,356.6 C906.0,358.9 908.1,359.3 911.4,360.5 C914.7,361.7 918.3,362.1 922.3,363.8 C926.3,365.5 931.4,368.6 935.4,370.8 C939.4,373.0 942.7,374.7 946.3,376.9 C949.9,379.1 953.2,381.2 957.2,383.8 C961.2,386.4 965.9,389.9 970.2,392.6 C974.6,395.3 978.9,398.0 983.3,400.2 C987.7,402.4 992.0,404.2 996.4,406.0 C1000.8,407.8 1005.1,409.6 1009.5,411.0 C1013.9,412.4 1018.5,413.2 1022.5,414.3 C1026.5,415.4 1030.2,416.2 1033.4,417.6 C1036.7,419.1 1038.4,420.3 1042.0,423.0 C1045.6,425.7 1050.5,429.8 1055.2,434.0 C1060.0,438.2 1065.0,442.7 1070.5,448.0 C1076.0,453.3 1082.6,460.1 1088.0,465.6 C1093.4,471.1 1098.3,476.1 1103.0,480.8 C1107.7,485.5 1111.7,489.1 1116.2,493.9 C1120.7,498.7 1126.1,505.3 1130.0,509.7 C1133.9,514.1 1136.5,516.6 1139.7,520.3 C1142.9,524.0 1146.2,528.1 1149.4,532.0 C1152.6,535.9 1155.8,539.7 1159.0,543.6 C1162.2,547.5 1165.5,551.3 1168.7,555.2 C1171.9,559.1 1175.2,563.1 1178.4,566.8 C1181.6,570.5 1184.1,573.6 1188.0,577.5 C1191.9,581.4 1197.5,586.1 1201.7,590.0 C1205.9,593.9 1209.1,596.8 1213.3,600.7 C1217.5,604.6 1222.7,609.6 1226.9,613.3 C1231.1,617.0 1234.7,620.1 1238.5,623.0 C1242.3,625.9 1246.1,628.4 1250.0,630.7 C1253.9,633.0 1257.3,634.9 1261.7,636.6 C1266.1,638.3 1273.8,640.1 1276.2,640.8" fill="none" stroke="#dc2a26" stroke-width="1.05"/></g>
<rect x="0" y="481" width="1329" height="1" fill="rgba(0,0,0,.42)"/>
<rect x="940" y="51" width="1" height="774" fill="rgba(0,0,0,.42)"/>
<rect x="1329" y="52" width="1" height="743" fill="#7a7a7a"/>
<rect x="0" y="794" width="1330" height="1" fill="#808080"/>
<rect x="1330" y="63" width="3" height="1" fill="#7a7a7a"/>
<rect x="1330" y="126" width="3" height="1" fill="#7a7a7a"/>
<rect x="1330" y="189" width="3" height="1" fill="#7a7a7a"/>
<rect x="1330" y="253" width="3" height="1" fill="#7a7a7a"/>
<rect x="1330" y="316" width="3" height="1" fill="#7a7a7a"/>
<rect x="1330" y="380" width="3" height="1" fill="#7a7a7a"/>
<rect x="1330" y="443" width="3" height="1" fill="#7a7a7a"/>
<rect x="1330" y="506" width="3" height="1" fill="#7a7a7a"/>
<rect x="1330" y="570" width="3" height="1" fill="#7a7a7a"/>
<rect x="1330" y="633" width="3" height="1" fill="#7a7a7a"/>
<rect x="1330" y="697" width="3" height="1" fill="#7a7a7a"/>
<rect x="1330" y="760" width="3" height="1" fill="#7a7a7a"/>
<rect x="83" y="795" width="1" height="5" fill="#808080"/>
<rect x="207" y="795" width="1" height="5" fill="#808080"/>
<rect x="331" y="795" width="1" height="5" fill="#808080"/>
<rect x="456" y="795" width="1" height="5" fill="#808080"/>
<rect x="580" y="795" width="1" height="5" fill="#808080"/>
<rect x="704" y="795" width="1" height="5" fill="#808080"/>
<rect x="829" y="795" width="1" height="5" fill="#808080"/>
<rect x="953" y="795" width="1" height="5" fill="#808080"/>
<rect x="1077" y="795" width="1" height="5" fill="#808080"/>
<rect x="1201" y="795" width="1" height="5" fill="#808080"/>
<rect x="1326" y="795" width="1" height="5" fill="#808080"/>
</svg>
<div id="xclip">
<div class="xl" style="left:62.2px">12:20</div>
<div class="xl" style="left:186.2px">12:40</div>
<div class="xl" style="left:310.2px">13:00</div>
<div class="xl" style="left:435.2px">13:20</div>
<div class="xl" style="left:559.2px">13:40</div>
<div class="xl" style="left:683.2px">14:00</div>
<div class="xl" style="left:808.2px">14:20</div>
<div class="xl" style="left:932.2px">14:40</div>
<div class="xl" style="left:1056.2px">15:00</div>
<div class="xl" style="left:1180.2px">15:20</div>
<div class="xl" style="left:1305.2px">15:40</div>
</div>
<div class="yl" style="top:56px">1,9230</div>
<div class="yl" style="top:119px">1,9220</div>
<div class="yl" style="top:182px">1,9210</div>
<div class="yl" style="top:246px">1,9200</div>
<div class="yl" style="top:309px">1,9190</div>
<div class="yl" style="top:373px">1,9180</div>
<div class="yl" style="top:436px">1,9170</div>
<div class="yl" style="top:499px">1,9160</div>
<div class="yl" style="top:563px">1,9150</div>
<div class="yl" style="top:626px">1,9140</div>
<div class="yl" style="top:690px">1,9130</div>
<div class="yl" style="top:753px">1,9120</div>
<div class="tag" style="top:633px;background:#f51010;color:#1a1a1a;height:16px;line-height:17px;">1,9139</div>
<div class="tag" style="top:651px;background:#4fa6dc;color:#fff;height:16px;line-height:17px;">1,9136</div>
<div class="tag" style="top:473px;background:#5a5c6e;color:#fff;">1,9164</div>
<div id="ttip">26/02 14:38</div>

<div class="zb" style="left:634px;width:90px;">
<svg width="90" height="32" viewBox="0 0 90 32" style="left:0;top:0" shape-rendering="crispEdges">
<rect x="43" y="0" width="1" height="32" fill="#e2e2e2"/>
<rect x="16" y="14" width="13" height="3" fill="#6bb0de"/>
<rect x="59" y="14" width="13" height="3" fill="#6bb0de"/>
<rect x="64" y="9" width="3" height="13" fill="#6bb0de"/>
</svg></div>
<div class="zb" style="left:733px;width:44px;">
<svg width="44" height="32" viewBox="0 0 44 32" style="left:0;top:0">
<g fill="#6bb0de" stroke="#6bb0de"><path d="M27.2,8.7 L15.8,15.1 L27.2,21.1" fill="none" stroke-width="2"/>
<circle cx="15.8" cy="15.1" r="3" stroke="none"/><circle cx="27.2" cy="8.7" r="2.8" stroke="none"/><circle cx="27.2" cy="21.1" r="3" stroke="none"/></g>
</svg></div>

<div id="topbar"></div>
<div id="hdr"></div>
<div id="lshadow"></div>
<!-- flags -->
<svg width="40" height="24" viewBox="12 14 40 24" style="left:12px;top:14px">
<defs><clipPath id="ukc"><rect x="17.2" y="19.8" width="15.6" height="10.9" rx="0.8"/></clipPath>
<clipPath id="nzc"><rect x="30" y="23.9" width="7.6" height="5"/></clipPath></defs>
<g clip-path="url(#ukc)">
<rect x="17.2" y="19.8" width="15.6" height="10.9" fill="#2c3b94"/>
<path d="M17.2,19.8 L32.8,30.7 M32.8,19.8 L17.2,30.7" stroke="#f3dfe3" stroke-width="1.9"/>
<path d="M17.2,19.8 L32.8,30.7 M32.8,19.8 L17.2,30.7" stroke="#d8544f" stroke-width="0.7"/>
<path d="M25.3,19.8 V30.7 M17.2,25.3 H32.8" stroke="#f7d9d6" stroke-width="3.4"/>
<path d="M25.3,19.8 V30.7 M17.2,25.3 H32.8" stroke="#d8281e" stroke-width="1.7"/>
<rect x="29.6" y="19.8" width="3.2" height="10.9" fill="rgba(12,10,45,.62)"/>
</g>
<rect x="29.3" y="23.3" width="15.5" height="10.6" rx="0.8" fill="#3b4cb2"/>
<g clip-path="url(#nzc)">
<path d="M30,23.9 L37.6,28.9 M37.6,23.9 L30,28.9" stroke="#f0dfe6" stroke-width="1.2"/>
<path d="M33.8,23.9 V28.9 M30,26.4 H37.6" stroke="#f3d6da" stroke-width="2"/>
<path d="M33.8,23.9 V28.9 M30,26.4 H37.6" stroke="#e0606a" stroke-width="0.9"/>
</g>
<g fill="#dfe3f6"><circle cx="41.4" cy="25.9" r="0.75"/><circle cx="43.4" cy="27.7" r="0.7"/><circle cx="39.2" cy="28.4" r="0.7"/><circle cx="41.4" cy="31.4" r="0.8"/></g>
</svg>
<div class="sym">GBPNZD</div>

<div class="dv" style="left:750px"></div>
<div class="pb" style="left:756px;width:113px;"><div class="k">V</div><div class="v">1.9136</div></div>
<div class="pb" style="left:877px;width:113px;"><div class="k">A</div><div class="v">1.9140</div></div>
<div class="dv" style="left:990px"></div>
<div id="cross"><i style="left:7px;top:15px;width:9px;height:2px"></i><i style="left:21px;top:15px;width:9px;height:2px"></i><i style="left:17px;top:5px;width:2px;height:8px"></i><i style="left:17px;top:19px;width:2px;height:8px"></i></div>
<div class="dv" style="left:1041px"></div>
<!-- compare icon -->
<svg width="30" height="30" viewBox="1052 12 30 30" style="left:1052px;top:12px">
<path d="M1056.1,36.8 V30.2 L1060.4,25.6 L1063.6,30.3 L1064.8,27.6 V36.8 Z" fill="#e3e3e3"/>
<path d="M1056.3,30.2 L1060.4,25.6 L1063.6,30.3 L1064.9,27.6" fill="none" stroke="#8f9195" stroke-width="2" stroke-linejoin="round"/>
<path d="M1068.1,36.8 V25.3 L1070.4,22.6 L1072.8,25.6 L1077.9,20.2 V36.8 Z" fill="#e3e3e3"/>
<path d="M1068.3,25.3 L1070.4,22.6 L1072.8,25.6 L1077.8,20.2" fill="none" stroke="#8f9195" stroke-width="2" stroke-linejoin="round"/>
<path d="M1066.45,19.1 V37.8" stroke="#8c8c8c" stroke-width="1.3" stroke-dasharray="3.6,1.4"/>
</svg>
<div class="arr" style="left:1086.5px"></div>
<div class="dv" style="left:1106px"></div>
<div class="tf">1M</div>
<div class="arr" style="left:1142.5px"></div>
<div class="dv" style="left:1162px"></div>
<!-- candle icon -->
<svg width="24" height="26" viewBox="0 0 24 26" style="left:1178px;top:15px" shape-rendering="crispEdges">
<g fill="#92959c">
<rect x="2" y="4" width="2" height="20"/><rect x="0" y="10" width="6" height="10"/>
<rect x="10" y="0" width="2" height="20"/><rect x="8" y="6" width="6" height="10"/>
<rect x="18" y="5" width="2" height="20"/><rect x="16" y="9" width="6" height="10"/>
</g></svg>
<div class="arr" style="left:1207.5px"></div>
<div class="dv" style="left:1227px"></div>
<!-- pencil icon -->
<svg width="30" height="30" viewBox="1238 12 30 30" style="left:1238px;top:12px">
<g fill="#92959c">
<path d="M1247.0,27.1 L1259.6,18.8 L1263.1,21.5 L1251.8,31.8 Z"/>
<path d="M1245.7,28.6 L1250.8,33.3 L1244.1,34.9 Z"/>
<path d="M1242.8,36.1 L1243.5,34.5 L1245.3,35.3 Z"/>
<path d="M1250.1,36.7 L1252.8,34.3 V36.7 Z"/>
<path d="M1254.2,36.7 V33.0 L1257.7,30.2 V36.7 Z"/>
<path d="M1259.2,36.7 V28.1 L1262.9,25.0 V36.7 Z"/>
</g></svg>
<div class="dv" style="left:1278px"></div>
<!-- gear -->
<svg width="24" height="24" viewBox="-12 -12 24 24" style="left:1292px;top:14.75px">
<g fill="#92959c">
<path fill-rule="evenodd" d="M0,-8.9 A8.9,8.9 0 1 0 0.001,-8.9 Z M0,-3.8 A3.8,3.8 0 1 1 -0.001,-3.8 Z"/>
<rect x="-2.4" y="-11" width="4.8" height="5" rx="1.4"/>
<rect x="-2.4" y="-11" width="4.8" height="5" rx="1.4" transform="rotate(45)"/>
<rect x="-2.4" y="-11" width="4.8" height="5" rx="1.4" transform="rotate(90)"/>
<rect x="-2.4" y="-11" width="4.8" height="5" rx="1.4" transform="rotate(135)"/>
<rect x="-2.4" y="-11" width="4.8" height="5" rx="1.4" transform="rotate(180)"/>
<rect x="-2.4" y="-11" width="4.8" height="5" rx="1.4" transform="rotate(225)"/>
<rect x="-2.4" y="-11" width="4.8" height="5" rx="1.4" transform="rotate(270)"/>
<rect x="-2.4" y="-11" width="4.8" height="5" rx="1.4" transform="rotate(315)"/>
</g></svg>
<div class="dv" style="left:1329px"></div>
<!-- collapse -->
<svg width="30" height="30" viewBox="1340 10 30 30" style="left:1340px;top:10px">
<g fill="#92959c" stroke="#92959c">
<path d="M1355.2,16.2 V24.7 H1364.1 Z" stroke="none"/>
<path d="M1359.4,20.5 L1364.3,15.6" stroke-width="2.9" fill="none"/>
<path d="M1344,27.2 H1352.8 V36 Z" stroke="none"/>
<path d="M1348.6,31.4 L1344,35.7" stroke-width="2.9" fill="none"/>
</g></svg>
<div class="dv" style="left:1378px"></div>
</body></html>
